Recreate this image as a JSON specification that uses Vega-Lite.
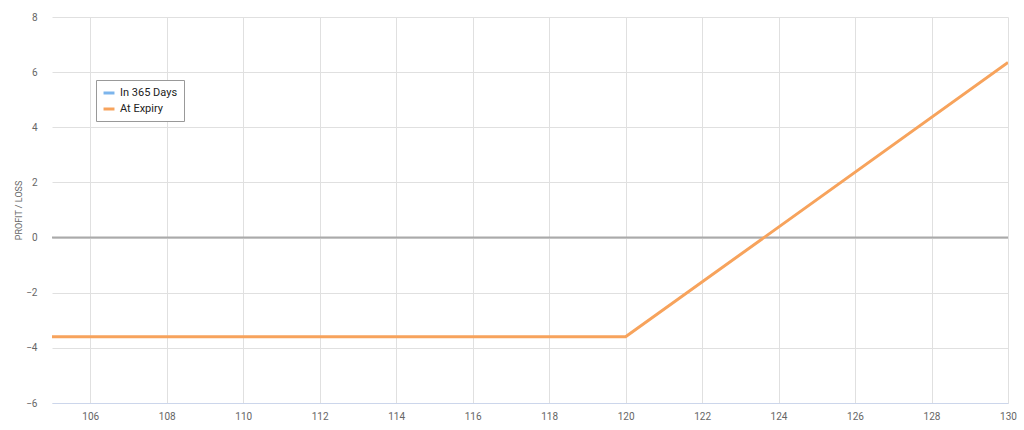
{
  "$schema": "https://vega.github.io/schema/vega-lite/v6.json",
  "width": 956,
  "height": 386,
  "autosize": "none",
  "padding": {"left": 52, "top": 17, "right": 16, "bottom": 27},
  "background": "white",
  "config": {
    "font": "Roboto",
    "view": {"stroke": null},
    "axis": {"labelColor": "#666", "labelFontSize": 10, "gridColor": "#e0e0e0", "gridWidth": 1, "ticks": false, "domain": false}
  },
  "datasets": {
    "lines": [
      {"price": 105, "pl": -3.6, "series": "At Expiry"},
      {"price": 120, "pl": -3.6, "series": "At Expiry"},
      {"price": 130, "pl": 6.35, "series": "At Expiry"}
    ],
    "zero": [{"y": 0}]
  },
  "layer": [
    {
      "data": {"name": "zero"},
      "mark": {"type": "rule", "color": "#aaaaaa", "strokeWidth": 2},
      "encoding": {"y": {"field": "y", "type": "quantitative", "scale": {"domain": [-6, 8]}}}
    },
    {
      "data": {"name": "lines"},
      "mark": {"type": "line", "strokeWidth": 3, "clip": true},
      "encoding": {
        "x": {
          "field": "price", "type": "quantitative",
          "scale": {"domain": [105, 130], "nice": false, "zero": false},
          "axis": {"values": [106,108,110,112,114,116,118,120,122,124,126,128,130], "title": null, "labelPadding": 8, "domain": true, "domainColor": "#ccd6eb", "labelFlush": false}
        },
        "y": {
          "field": "pl", "type": "quantitative",
          "scale": {"domain": [-6, 8], "nice": false, "zero": false},
          "axis": {"values": [-6,-4,-2,0,2,4,6,8], "title": "PROFIT / LOSS", "titleFontSize": 9, "titleFontWeight": "normal", "titleColor": "#666", "titleX": -34, "titleY": 193, "titleAlign": "center", "titleBaseline": "middle", "titleAngle": -90, "labelPadding": 15}
        },
        "color": {
          "field": "series", "type": "nominal",
          "scale": {"domain": ["In 365 Days", "At Expiry"], "range": ["#7cb5ec", "#f7a35c"]},
          "legend": {
            "title": null, "orient": "none", "legendX": 44, "legendY": 63,
            "strokeColor": "#999", "fillColor": "white", "padding": 6,
            "symbolType": "stroke", "symbolStrokeWidth": 3, "symbolSize": 120,
            "labelFontSize": 11, "labelColor": "#222", "labelFontWeight": "normal", "rowPadding": 3
          }
        }
      }
    }
  ]
}
